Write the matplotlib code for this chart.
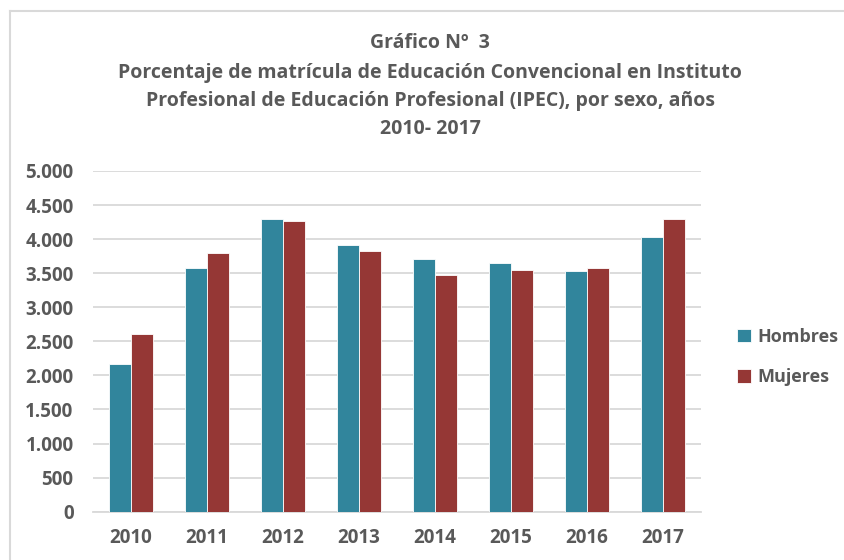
import matplotlib
matplotlib.use("Agg")
import matplotlib.pyplot as plt
import numpy as np
from matplotlib.lines import Line2D

years = ["2010", "2011", "2012", "2013", "2014", "2015", "2016", "2017"]
hombres = [2165, 3580, 4300, 3910, 3710, 3645, 3535, 4035]
mujeres = [2610, 3800, 4265, 3830, 3470, 3550, 3575, 4290]
yticks = [0, 500, 1000, 1500, 2000, 2500, 3000, 3500, 4000, 4500, 5000]
title_lines = [
    "Gráfico Nº  3",
    "Porcentaje de matrícula de Educación Convencional en Instituto",
    "Profesional de Educación Profesional (IPEC), por sexo, años",
    "2010- 2017",
]

plt.rcParams['font.family'] = ['Open Sans', 'DejaVu Sans']
gray = "#595959"

fig = plt.figure(figsize=(8.44, 5.6), dpi=100)
ax = fig.add_axes([93 / 844, 1 - 511.7 / 560, (701 - 93) / 844, (511.7 - 171) / 560])

x = np.arange(len(years))
w = 0.285
ax.bar(x - w / 2, hombres, w, color="#31859C", edgecolor="white", linewidth=0.6, label="Hombres", zorder=3)
ax.bar(x + w / 2, mujeres, w, color="#953735", edgecolor="white", linewidth=0.6, label="Mujeres", zorder=3)

ax.set_xlim(-0.5, len(years) - 0.5)
ax.set_ylim(0, 5000)
ax.set_yticks(yticks)
ax.set_yticklabels([f"{v:,}".replace(",", ".") for v in yticks])
ax.set_xticks(x)
ax.set_xticklabels(years)
ax.grid(axis="y", color="#D9D9D9", linewidth=1.3, zorder=0)
for s in ["top", "right", "left"]:
    ax.spines[s].set_visible(False)
ax.spines["bottom"].set_color("#D9D9D9")
ax.spines["bottom"].set_linewidth(1.3)
ax.tick_params(length=0, labelsize=13.5, labelcolor=gray)
ax.tick_params(axis="y", pad=14)
ax.tick_params(axis="x", pad=12)
for lab in ax.get_xticklabels() + ax.get_yticklabels():
    lab.set_fontweight("bold")

ys = [43, 73, 101, 129]
for t, yy in zip(title_lines, ys):
    fig.text(430 / 844, 1 - yy / 560, t, ha="center", va="center",
             fontsize=14, fontweight="bold", color=gray)

fig.legend(loc="center left", bbox_to_anchor=(721 / 844, 1 - 357 / 560),
           frameon=False, prop={"weight": "bold", "size": 13},
           labelcolor=gray, handlelength=0.75, handleheight=0.75,
           handletextpad=0.35, labelspacing=1.25)

# chart border (light gray), only top and left visible in reference
fig.add_artist(Line2D([10 / 844, 10 / 844], [0, 1 - 10.5 / 560], color="#D9D9D9", linewidth=1.5))
fig.add_artist(Line2D([10 / 844, 1], [1 - 10.5 / 560, 1 - 10.5 / 560], color="#D9D9D9", linewidth=1.5))

fig.savefig("out.png", dpi=100, facecolor="white")
